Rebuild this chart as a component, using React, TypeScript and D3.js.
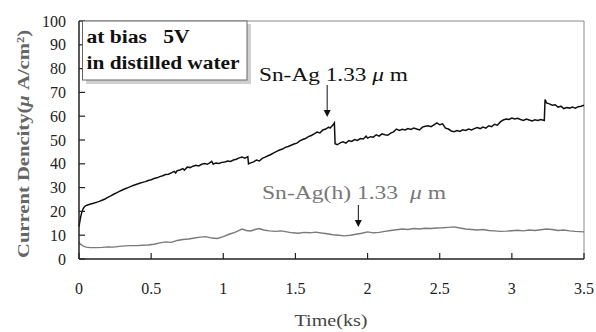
import React from "react";
import * as d3 from "d3";

const blackT = [0,0.005,0.012,0.02,0.03,0.04,0.055,0.075,0.1,0.12,0.14,0.16,0.18,0.2,0.22,0.24,0.26,0.28,0.3,0.32,0.34,0.36,0.38,0.4,0.42,0.44,0.46,0.48,0.5,0.52,0.54,0.56,0.58,0.6,0.62,0.64,0.66,0.67,0.68,0.7,0.72,0.73,0.75,0.77,0.79,0.81,0.83,0.85,0.87,0.89,0.91,0.92,0.93,0.95,0.97,0.99,1.01,1.03,1.05,1.07,1.09,1.11,1.13,1.15,1.17,1.175,1.19,1.21,1.23,1.25,1.27,1.29,1.31,1.33,1.35,1.37,1.39,1.41,1.43,1.45,1.47,1.49,1.51,1.53,1.55,1.57,1.59,1.61,1.63,1.65,1.67,1.69,1.71,1.73,1.74,1.76,1.77,1.775,1.79,1.81,1.83,1.85,1.87,1.89,1.91,1.93,1.95,1.97,1.99,2.0,2.02,2.04,2.06,2.08,2.1,2.12,2.14,2.16,2.18,2.2,2.22,2.24,2.26,2.28,2.3,2.32,2.34,2.36,2.38,2.4,2.42,2.44,2.46,2.48,2.5,2.52,2.54,2.56,2.58,2.6,2.62,2.64,2.66,2.68,2.7,2.72,2.74,2.76,2.78,2.8,2.82,2.84,2.86,2.88,2.9,2.92,2.94,2.96,2.98,3.0,3.02,3.04,3.06,3.08,3.1,3.12,3.14,3.16,3.18,3.2,3.225,3.23,3.24,3.26,3.28,3.3,3.32,3.34,3.36,3.38,3.4,3.42,3.44,3.46,3.48,3.5];
const blackV = [13.6,15.5,17.8,19.8,21.3,22.1,22.6,23.0,23.4,23.8,24.2,24.7,25.2,25.9,26.5,27.2,27.8,28.4,29.0,29.5,30.0,30.5,31.0,31.4,31.8,32.2,32.5,33.0,33.3,33.8,34.1,34.6,35.0,35.5,35.6,36.2,36.8,36.1,37.1,37.4,38.0,37.3,38.6,38.4,39.0,39.4,39.1,39.8,40.1,39.8,40.6,41.0,39.9,40.3,40.1,40.6,40.8,41.2,41.0,41.6,41.9,42.5,42.8,42.4,43.0,40.0,40.4,40.8,41.6,41.2,42.3,42.8,43.4,43.9,44.6,45.2,45.8,46.2,46.9,47.3,47.8,48.3,48.7,49.6,50.2,50.6,51.4,51.9,52.6,53.3,53.0,54.2,54.6,55.4,55.0,56.3,57.2,48.4,48.0,48.8,49.2,48.7,49.8,49.4,50.2,49.8,50.6,50.4,51.6,50.8,51.4,51.2,52.2,51.6,52.6,52.2,52.0,52.9,53.4,54.6,54.0,54.5,54.2,54.8,54.4,55.0,54.6,54.2,55.4,55.8,56.0,55.6,56.4,57.2,56.4,56.8,55.0,54.6,53.8,53.5,54.0,53.6,54.3,54.0,54.6,54.2,54.8,55.2,54.8,55.4,55.0,56.0,55.6,56.6,56.2,57.6,58.4,58.8,58.6,59.2,58.8,59.1,58.6,58.2,58.8,58.4,58.0,58.5,58.2,58.6,58.2,67.0,65.6,65.2,64.6,64.8,63.8,64.2,63.2,63.6,63.4,63.8,63.4,64.0,64.2,64.6];

const grayT = [0,0.01,0.03,0.05,0.08,0.12,0.16,0.2,0.24,0.28,0.32,0.36,0.4,0.44,0.48,0.52,0.56,0.6,0.64,0.68,0.72,0.76,0.8,0.84,0.88,0.92,0.96,1.0,1.04,1.08,1.11,1.13,1.16,1.19,1.22,1.25,1.28,1.32,1.36,1.4,1.44,1.48,1.52,1.56,1.6,1.64,1.68,1.72,1.76,1.8,1.84,1.88,1.92,1.96,2.0,2.04,2.08,2.12,2.16,2.2,2.24,2.28,2.32,2.36,2.4,2.44,2.48,2.52,2.56,2.6,2.64,2.68,2.72,2.76,2.8,2.84,2.88,2.92,2.96,3.0,3.04,3.08,3.12,3.16,3.2,3.24,3.28,3.32,3.36,3.4,3.44,3.5];
const grayV = [7.0,6.2,5.4,5.0,4.8,4.8,4.9,5.1,5.0,5.3,5.5,5.6,5.6,5.8,5.9,6.2,6.8,7.2,7.0,7.8,8.2,8.4,8.8,9.2,9.4,8.8,8.6,9.4,10.4,11.2,12.0,12.6,12.0,11.8,12.4,12.8,12.2,11.8,11.6,11.8,11.4,11.0,10.8,11.2,11.0,11.3,10.9,10.6,10.2,10.0,9.7,10.0,10.4,10.8,11.4,11.0,11.2,11.6,12.0,12.3,12.6,12.4,12.8,12.6,12.9,12.8,13.0,13.1,13.3,13.5,13.0,12.6,12.4,12.2,12.4,12.0,11.8,11.6,11.7,11.9,12.1,11.8,12.2,12.0,12.3,12.6,12.4,12.0,12.2,11.8,11.6,11.4];

const xTicks = [0, 0.5, 1, 1.5, 2, 2.5, 3, 3.5];
const xTickLabels = ["0", "0.5", "1", "1.5", "2", "2.5", "3", "3.5"];
const yTicks = [0, 10, 20, 30, 40, 50, 60, 70, 80, 90, 100];

const W = 596, H = 332;
const L = 79, R = 584, T = 21, B = 259;
const serif = '"Liberation Serif", "Times New Roman", Times, serif';
const ff = { fontFamily: serif, whiteSpace: "pre" as const };

export default function App() {
  const x = d3.scaleLinear().domain([0, 3.5]).range([L, R]);
  const y = d3.scaleLinear().domain([0, 100]).range([B, T]);
  const line = d3.line<[number, number]>().x(d => x(d[0])).y(d => y(d[1]));
  const black = blackT.map((t, i) => [t, blackV[i]] as [number, number]);
  const gray = grayT.map((t, i) => [t, grayV[i]] as [number, number]);
  const a1 = x(1.72);
  const a2 = x(1.936);

  return (
    <svg width={W} height={H} style={{ position: "absolute", left: 0, top: 0, background: "#fff", fontFamily: serif }}>
      <rect x={0} y={0} width={W} height={H} fill="#fff" />
      <line x1={L} x2={R} y1={T} y2={T} stroke="#8a8a8a" strokeWidth={1} />
      <line x1={R} x2={R} y1={T} y2={B} stroke="#8a8a8a" strokeWidth={1} />
      <path d={line(gray) || ""} fill="none" stroke="#7a7a7a" strokeWidth={1.4} />
      <path d={line(black) || ""} fill="none" stroke="#111" strokeWidth={1.5} />
      <line x1={L} x2={L} y1={T} y2={B} stroke="#222" strokeWidth={1.5} />
      <line x1={L} x2={R} y1={B} y2={B} stroke="#222" strokeWidth={1.5} />
      {yTicks.map(v => (
        <g key={"y" + v}>
          <line x1={L} x2={L + 6} y1={y(v)} y2={y(v)} stroke="#222" strokeWidth={1.2} />
          <text x={66} y={y(v) + 5.5} textAnchor="end" fontSize={16} fill="#222" style={ff}>{v}</text>
        </g>
      ))}
      {xTicks.map((v, i) => (
        <g key={"x" + v}>
          <line x1={x(v)} x2={x(v)} y1={B} y2={B - 6} stroke="#222" strokeWidth={1.2} />
          <text x={x(v)} y={294} textAnchor="middle" fontSize={16} fill="#222" style={ff}>{xTickLabels[i]}</text>
        </g>
      ))}
      <text x={331} y={326} textAnchor="middle" fontSize={16} fill="#444" style={ff} textLength={73} lengthAdjust="spacingAndGlyphs">Time(ks)</text>
      <text transform="translate(29,144) rotate(-90)" textAnchor="middle" fontSize={17} fontWeight="bold" fill="#666" style={ff} textLength={228} lengthAdjust="spacingAndGlyphs">Current Dencity(<tspan fontStyle="italic">μ</tspan> A/cm²)</text>
      <rect x={86} y={24} width={165} height={60} fill="#d0d0d0" />
      <rect x={82.5} y={21} width={164.5} height={59} fill="#fff" stroke="#666" strokeWidth={1} />
      <text x={86.5} y={43} fontSize={18} fontWeight="bold" fill="#111" style={ff} textLength={103} lengthAdjust="spacingAndGlyphs">{"at bias   5V"}</text>
      <text x={86.5} y={69} fontSize={18} fontWeight="bold" fill="#111" style={ff} textLength={153} lengthAdjust="spacingAndGlyphs">in distilled water</text>
      <text x={259} y={81} fontSize={19} fill="#111" style={ff} textLength={149} lengthAdjust="spacingAndGlyphs">Sn-Ag 1.33 <tspan fontStyle="italic">μ</tspan> m</text>
      <line x1={a1} x2={a1} y1={85} y2={111} stroke="#111" strokeWidth={1} />
      <path d={`M${a1 - 3.5},110 L${a1 + 3.5},110 L${a1},117 Z`} fill="#111" />
      <text x={262} y={199} fontSize={19} fill="#777" style={ff} textLength={184} lengthAdjust="spacingAndGlyphs">{"Sn-Ag(h) 1.33  "}<tspan fontStyle="italic">μ</tspan> m</text>
      <line x1={a2} x2={a2} y1={205} y2={221} stroke="#111" strokeWidth={1} />
      <path d={`M${a2 - 3.5},220 L${a2 + 3.5},220 L${a2},227 Z`} fill="#111" />
    </svg>
  );
}
